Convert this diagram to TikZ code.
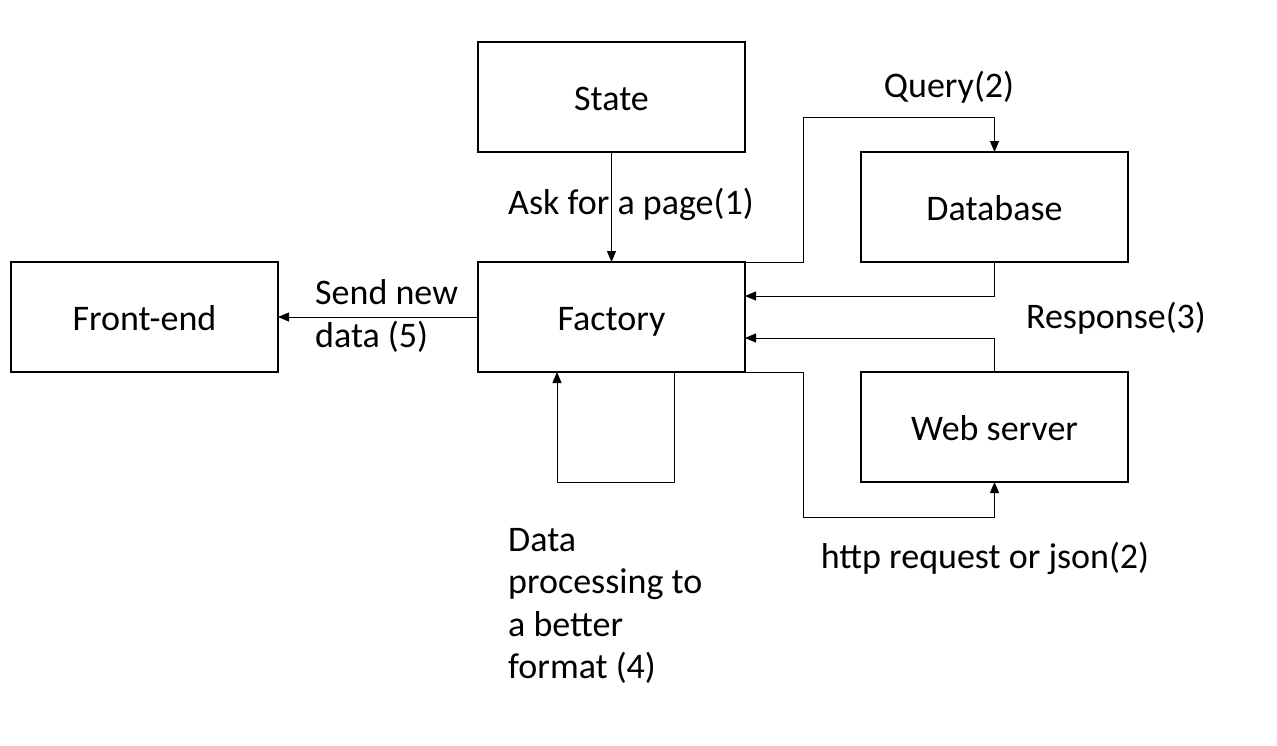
\documentclass[tikz,border=0pt]{standalone}
\usepackage{fontspec}
\setmainfont{Carlito}
\usetikzlibrary{arrows.meta,calc}
\begin{document}
\begin{tikzpicture}[x=1pt,y=-1pt,
  box/.style={draw,line width=1.2pt,minimum width=267pt,minimum height=110pt,inner sep=0pt,outer sep=0pt,text height=27pt,text depth=0pt,font=\fontsize{36}{42.5}\selectfont},
  conn/.style={line width=1pt,-{Triangle[length=11pt,width=9pt]}},
  lbl/.style={font=\fontsize{36}{42.5}\selectfont,inner sep=0pt}]
\useasboundingbox (0,0) rectangle (1277,745);
\node[box] (st) at (611.5,97) {State};
\node[box] (fac) at (611.5,317) {Factory};
\node[box] (fe) at (144.5,317) {Front-end};
\node[box] (db) at (994.5,207) {Database};
\node[box] (ws) at (994.5,427) {Web server};
\coordinate (q1) at (803,117);
\coordinate (r1) at (803,517);
\coordinate (l1) at (674,482);
\coordinate (l2) at (557,482);
\draw[conn] (st.south) -- (fac.north);
\draw[conn] (fac.north east) -| (q1) -| (db.north);
\draw[conn] (db.south) |- ($(fac.north east)+(0,34)$);
\draw[conn] (ws.north) |- ($(fac.south east)+(0,-34)$);
\draw[conn] (fac.south east) -| (r1) -| (ws.south);
\draw[conn] (fac.south west -| l1) -- (l1) -- (l2) -- (fac.south west -| l2);
\draw[conn] (fac.west) -- (fe.east);
\node[lbl,anchor=west] (t1) at (508,204) {Ask for a page(1)};
\node[lbl] (t2) at (949,87) {Query(2)};
\node[lbl] (t3) at (1116,318) {Response(3)};
\node[lbl] (t4) at (985,558) {http request or json(2)};
\node[lbl,anchor=west,align=left] (t5) at (315,316) {Send new\\data (5)};
\node[lbl,anchor=west,align=left] (t6) at (508,606) {Data\\processing to\\a better\\format (4)};
\end{tikzpicture}
\end{document}
